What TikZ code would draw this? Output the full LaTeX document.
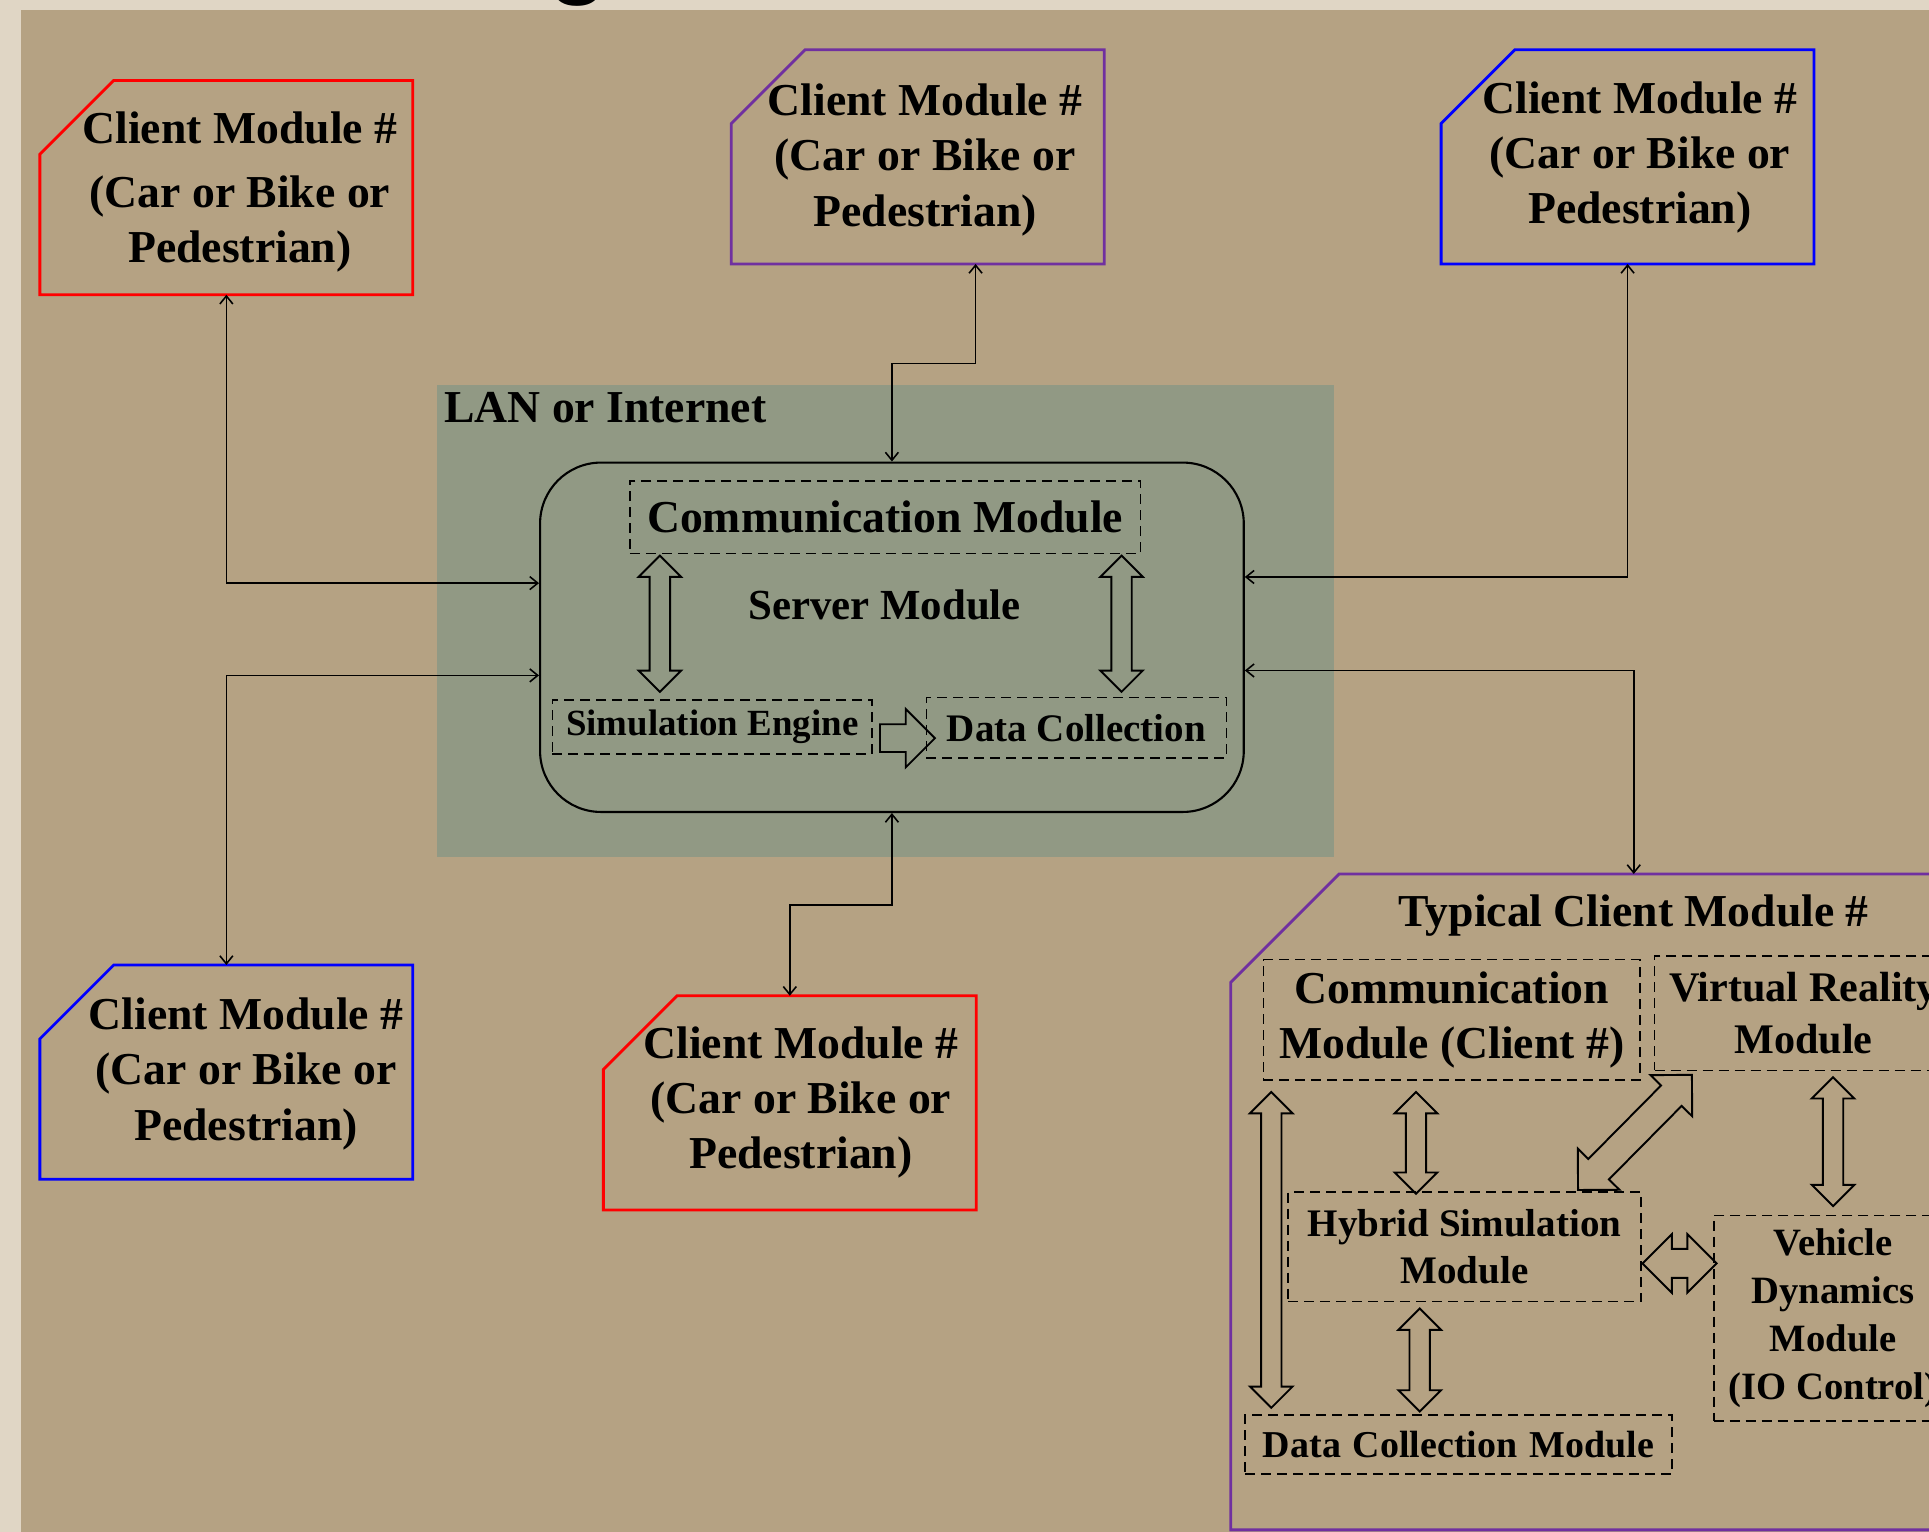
\documentclass[tikz,border=0pt]{standalone}
\usepackage{fontspec}
\setmainfont{Liberation Serif}
\newfontfamily\titlefont{Liberation Sans}
\usetikzlibrary{calc, arrows.meta, shapes.arrows}
\definecolor{paper}{RGB}{224,214,197}
\definecolor{slideTan}{RGB}{181,162,131}
\definecolor{lanGreen}{RGB}{145,153,132}
\definecolor{clientPurple}{RGB}{112,48,160}
\newcommand\pu{0.12302mm}
\newcommand\bfsize[2]{\fontsize{#1}{#2}\selectfont\bfseries}
% hollow block arrow between two points
\newcommand\blockarrow[3][]{%
  \path let \p1=#2, \p2=#3, \n1={veclen(\x2-\x1,\y2-\y1)}, \n2={atan2(\y2-\y1,\x2-\x1)} in
    node[#1, minimum height=\n1, rotate=\n2] at ($(\p1)!0.5!(\p2)$) {};}
% frame with the north west corner cut off
\newcommand\cutframe[3]{%
  \draw[cliline, #2] ($(#1.north west)+(0,#3)$) -- ($(#1.north west)+(#3,0)$)
    -- (#1.north east) -- (#1.south east) -- (#1.south west) -- cycle;}

\begin{document}
\begin{tikzpicture}[x=\pu, y=-\pu,
  cli/.style={minimum width=302*\pu, minimum height=173*\pu, inner sep=0pt},
  cliline/.style={line width=0.8pt, line join=miter},
  clitxt/.style={align=center, inner sep=0pt, font=\bfsize{13}{15.7}},
  dbox/.style={draw, dash pattern=on 1mm off 0.6mm, line width=0.45pt, inner sep=0pt, align=center},
  conn/.style={<->, >={Straight Barb[length=0.8mm,width=1.3mm]}, line width=0.45pt},
  thinarr/.style={double arrow, draw, line width=0.55pt, inner sep=7.5*\pu, double arrow head extend=9*\pu},
  fatarr/.style={double arrow, draw, line width=0.55pt, inner sep=11*\pu, double arrow head extend=12*\pu},
  pusharr/.style={single arrow, draw, line width=0.55pt, inner sep=10.5*\pu, single arrow head extend=12.5*\pu}
]
\useasboundingbox (0,0) rectangle (1568,1245);
\clip (0,0) rectangle (1568,1245);
\fill[paper] (0,0) rectangle (1568,1245);
\node[font=\titlefont\bfsize{28}{30}, anchor=base, inner sep=0pt] (ttl) at (470,-12) {g};
\fill[slideTan] (17,8) rectangle (1568,1245);

% LAN area and server
\node[fill=lanGreen, minimum width=729*\pu, minimum height=384*\pu, inner sep=0pt] (lan) at (719.5,505) {};
\node[font=\bfsize{13}{15}, anchor=base west, inner sep=0pt] (lanlbl) at ($(lan.north west)+(6,31)$) {LAN or Internet};
\node[draw, line width=0.6pt, rounded corners=6.1mm, minimum width=572*\pu, minimum height=284*\pu] (srv) at (725,518) {};
\node[font=\bfsize{12.2}{14}] (srvlbl) at (719,492) {Server Module};
\node[dbox, font=\bfsize{13}{15}, minimum width=415*\pu, minimum height=59*\pu] (scomm) at (719.5,420.5) {Communication Module};
\node[dbox, font=\bfsize{10.5}{12}, minimum width=260*\pu, minimum height=44*\pu] (ssim) at (579,591) {Simulation Engine};
\node[dbox, font=\bfsize{11.1}{13}, minimum width=244*\pu, minimum height=49*\pu] (sdata) at (875,591.5) {Data Collection};
\blockarrow[thinarr, name=sa1]{($(scomm.south west)+(25,1)$)}{($(ssim.north west)+(88,-6)$)}
\blockarrow[thinarr, name=sa2]{($(scomm.south east)+(-16,1)$)}{($(sdata.north east)+(-86,-4)$)}
\blockarrow[pusharr, name=sa3]{($(ssim.east)+(0,9)$)}{($(sdata.west)+(2,8.5)$)}

% client modules
\node[cli] (c1) at (184,152.5) {};
\cutframe{c1}{red}{60}
\node[clitxt] (c1t) at (195,156) {Client Module \#\\[2.5pt](Car or Bike or\\Pedestrian)};
\node[cli] (c2) at (746,127.5) {};
\cutframe{c2}{clientPurple}{60}
\node[clitxt] (c2t) at (752,130) {Client Module \#\\(Car or Bike or\\Pedestrian)};
\node[cli] (c3) at (1323,127.5) {};
\cutframe{c3}{blue}{60}
\node[clitxt] (c3t) at (1333,128) {Client Module \#\\(Car or Bike or\\Pedestrian)};
\node[cli] (c4) at (184,871.5) {};
\cutframe{c4}{blue}{60}
\node[clitxt] (c4t) at (200,873) {Client Module \#\\(Car or Bike or\\Pedestrian)};
\node[cli] (c5) at (642,896.5) {};
\cutframe{c5}{red}{60}
\node[clitxt] (c5t) at (651,896) {Client Module \#\\(Car or Bike or\\Pedestrian)};

% typical client module
\node[minimum width=654*\pu, minimum height=532*\pu, inner sep=0pt] (tcl) at (1328,977) {};
\cutframe{tcl}{clientPurple}{88}
\node[clitxt] (tcllbl) at (1328,744) {Typical Client Module \#};
\node[dbox, font=\bfsize{13}{15.7}, minimum width=306*\pu, minimum height=98*\pu] (tcomm) at (1180,829) {Communication\\Module (Client \#)};
\node[dbox, font=\bfsize{12}{14.6}, minimum width=242*\pu, minimum height=93*\pu] (tvr) at (1466,823.5) {Virtual Reality\\Module};
\node[dbox, font=\bfsize{11.1}{13.3}, minimum width=287*\pu, minimum height=89*\pu] (thyb) at (1190.5,1013.5) {Hybrid Simulation\\Module};
\node[dbox, font=\bfsize{11}{13.6}, minimum width=194*\pu, minimum height=167*\pu] (tveh) at (1490,1071.5) {Vehicle\\Dynamics\\Module\\(IO Control)};
\node[dbox, font=\bfsize{10.8}{12}, minimum width=347*\pu, minimum height=48*\pu] (tdata) at (1185.5,1174) {Data\hspace{1.2mm}Collection\hspace{1.2mm}Module};
\blockarrow[thinarr, name=ta1]{($(tcomm.south west)+(7,9)$)}{($(tdata.north west)+(22,-5)$)}
\blockarrow[thinarr, name=ta2]{($(tcomm.south)+(-29,9)$)}{($(thyb.north)+(-39.5,2)$)}
\blockarrow[thinarr, name=ta3]{($(thyb.south)+(-36.5,5)$)}{($(tdata.north)+(-31.5,-2)$)}
\blockarrow[thinarr, name=ta4]{($(tvr.south)+(24,5)$)}{($(tveh.north)+(0,-7)$)}
\blockarrow[fatarr, name=ta5]{($(thyb.east)+(0.5,13.5)$)}{($(tveh.west)+(3,-44.5)$)}
\blockarrow[fatarr, name=ta6]{($(thyb.north east)+(-52,-1)$)}{($(tvr.south west)+(31,3)$)}

% links to the server
\draw[conn] (c1.south) |- ($(srv.west)+(0,-44)$);
\draw[conn] ($(srv.west)+(0,31)$) -| (c4.north);
\draw[conn] ($(c2.south)+(47,0)$) -- ++(0,81) -| (srv.north);
\draw[conn] (c3.south) |- ($(srv.east)+(0,-49)$);
\draw[conn] (srv.south) -- ++(0,75) -| (c5.north);
\draw[conn] ($(srv.east)+(0,27)$) -| (tcl.north);
\end{tikzpicture}
\end{document}
